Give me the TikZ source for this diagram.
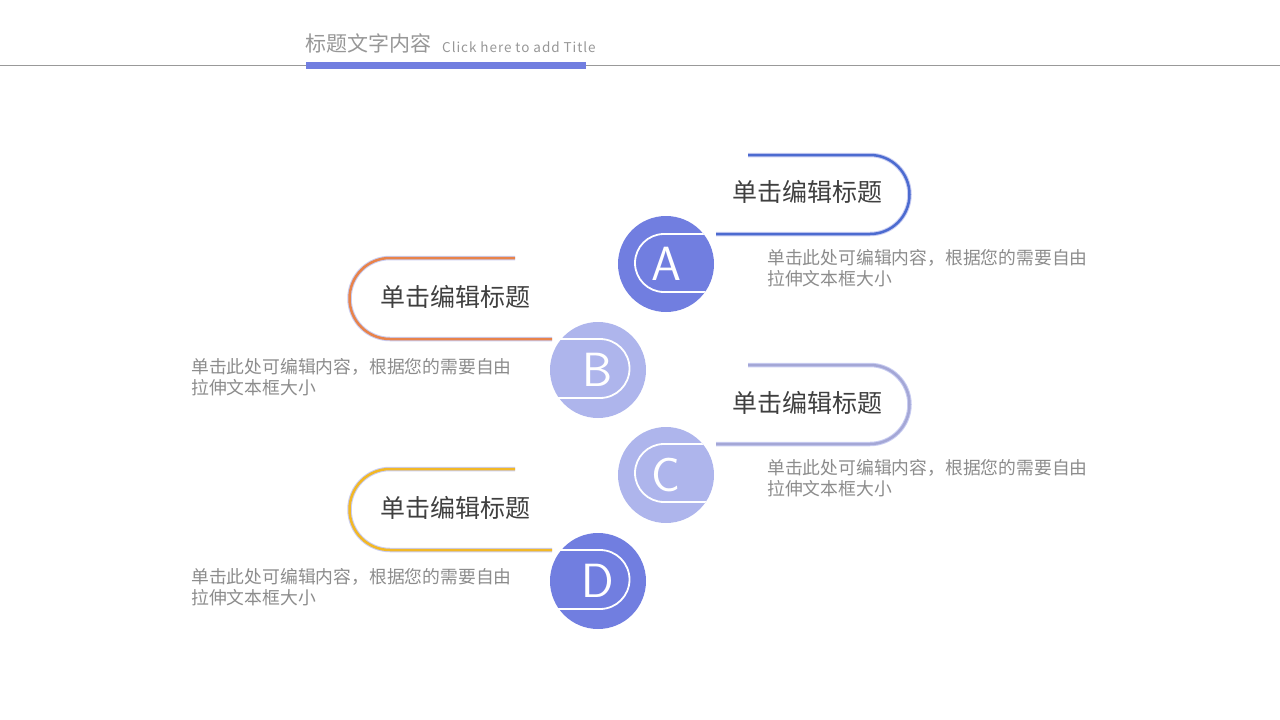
\documentclass[tikz,border=0pt]{standalone}
\usepackage{fontspec}
\setmainfont{Noto Sans CJK SC}
\usepackage{tikz}
\usetikzlibrary{calc}

\definecolor{deepBlue}{HTML}{717EE0}
\definecolor{paleBlue}{HTML}{AEB5EC}
\definecolor{haloBlue}{HTML}{C9CDF2}
\definecolor{lineA}{HTML}{4C6BD0}
\definecolor{lineB}{HTML}{E8834A}
\definecolor{lineC}{HTML}{A4A7D6}
\definecolor{lineD}{HTML}{F2B826}
\definecolor{txtDark}{HTML}{3F3F3F}
\definecolor{txtGray}{HTML}{8C8C8C}

\begin{document}
\begin{tikzpicture}[x=1pt,y=1pt,
    ball/.style={circle,inner sep=0pt,minimum size=96pt,text=white,
                 font=\sffamily\fontsize{48}{48}\selectfont},
    halo/.style={haloBlue,line width=4.5pt},
    pill/.style={line width=2.5pt},
    inner/.style={white,line width=1.8pt},
    head/.style={txtDark,font=\fontsize{25}{28}\selectfont},
    body/.style={txtGray,align=left,anchor=west,
                 font=\fontsize{17.8}{21.5}\selectfont}]

        \useasboundingbox (0,0) rectangle (1280,-720);

        % Header
        \draw[gray!80,line width=0.8pt] (0,-65) -- (1280,-65);
        \fill[deepBlue] (306,-62) rectangle (586,-69);
        \node[anchor=west,txtGray!90,font=\fontsize{21}{23}\selectfont,inner sep=0pt]
            (ttl) at (305,-43) {标题文字内容};
        \node[anchor=west,txtGray!90,inner sep=0pt,
              font=\fontsize{13.5}{15}\selectfont\addfontfeatures{LetterSpace=7}]
            (sub) at (442,-47) {Click here to add Title};

        % Right hand pills (A, C)
        \foreach \dy/\col in {0/lineA,-210/lineC} {
            \begin{scope}[shift={(0,\dy)}]
                \draw[halo] (748,-155) -- (870,-155) arc(90:-90:39.5) -- (716,-234);
                \draw[pill,\col] (748,-155) -- (870,-155) arc(90:-90:39.5) -- (716,-234);
            \end{scope}
        }

        % Left hand pills (B, D)
        \foreach \dy/\col in {0/lineB,-211/lineD} {
            \begin{scope}[shift={(0,\dy)}]
                \draw[halo] (515,-258) -- (390,-258) arc(90:270:40.5) -- (552,-339);
                \draw[pill,\col] (515,-258) -- (390,-258) arc(90:270:40.5) -- (552,-339);
            \end{scope}
        }

        % Balls
        \node[ball,fill=deepBlue] (cA) at (666,-264) {A};
        \node[ball,fill=paleBlue] (cB) at (598,-370) {B};
        \node[ball,fill=paleBlue] (cC) at (666,-475) {C};
        \node[ball,fill=deepBlue] (cD) at (598,-581) {D};

        % White loops inside the balls
        \foreach \b/\dy in {cA/0,cC/-210} {
            \begin{scope}
                \clip (\b.center) circle (48);
                \draw[inner] (720,{-234+\dy}) -- (664,{-234+\dy}) arc(90:270:29)
                    -- (720,{-292+\dy});
            \end{scope}
        }
        \foreach \b/\dy in {cB/0,cD/-211} {
            \begin{scope}
                \clip (\b.center) circle (49);
                \draw[inner] (540,{-339+\dy}) -- (600,{-339+\dy}) arc(90:-90:29.5)
                    -- (540,{-398+\dy});
            \end{scope}
        }

        % Titles
        \node[head] (hA) at (807,-192) {单击编辑标题};
        \node[head] (hB) at (455,-297) {单击编辑标题};
        \node[head] (hC) at (807,-403) {单击编辑标题};
        \node[head] (hD) at (455,-508) {单击编辑标题};

        % Descriptions
        \node[body,inner sep=0pt] (dA) at (767,-268)
            {单击此处可编辑内容，根据您的需要自由\\拉伸文本框大小};
        \node[body,inner sep=0pt] (dB) at (191,-377)
            {单击此处可编辑内容，根据您的需要自由\\拉伸文本框大小};
        \node[body,inner sep=0pt] (dC) at (767,-478)
            {单击此处可编辑内容，根据您的需要自由\\拉伸文本框大小};
        \node[body,inner sep=0pt] (dD) at (191,-587)
            {单击此处可编辑内容，根据您的需要自由\\拉伸文本框大小};

    \end{tikzpicture}
\end{document}
